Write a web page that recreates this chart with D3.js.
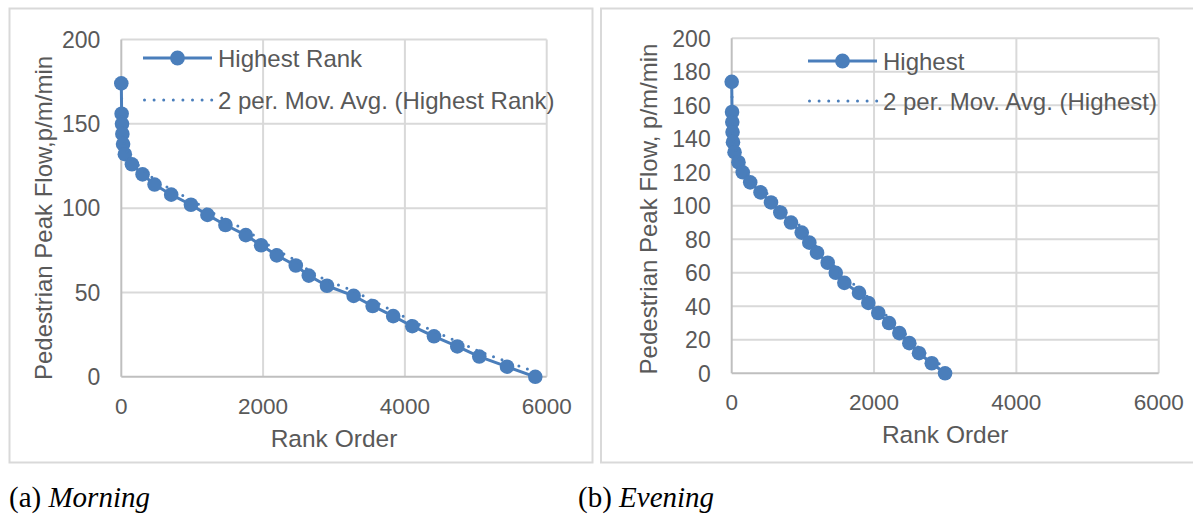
<!DOCTYPE html>
<html>
<head>
<meta charset="utf-8">
<script src="https://cdn.jsdelivr.net/npm/d3@7/dist/d3.min.js"></script>
<style>
  html, body { margin: 0; padding: 0; background: #fff; }
  svg { display: block; }
  .tick-label, .axis-title, .legend-text { font-family: "Liberation Sans", Arial, sans-serif; fill: #595959; }
  .caption { font-family: "Liberation Serif", "Times New Roman", serif; fill: #000; }
</style>
</head>
<body>
<svg id="chart" width="1193" height="515"></svg>
<script>
// Peak pedestrian flow (p/m/min) against rank order, morning and evening peaks
const flowLevels = [174, 156, 150, 144, 138, 132, 126, 120, 114, 108, 102, 96, 90, 84, 78, 72, 66, 60, 54, 48, 42, 36, 30, 24, 18, 12, 6, 0];
const morningRank = [0, 5, 10, 15, 25, 50, 150, 300, 469, 704, 982, 1215, 1469, 1756, 1972, 2193, 2461, 2644, 2901, 3277, 3545, 3835, 4104, 4410, 4739, 5049, 5440, 5839];
const eveningRank = [0, 5, 8, 12, 18, 40, 95, 155, 260, 405, 552, 683, 833, 984, 1091, 1199, 1349, 1462, 1583, 1789, 1920, 2060, 2211, 2356, 2496, 2632, 2811, 2998];

const xTicks = [0, 2000, 4000, 6000];
const morningYTicks = [0, 50, 100, 150, 200];
const eveningYTicks = [0, 20, 40, 60, 80, 100, 120, 140, 160, 180, 200];

const BLUE = "#4a7ebb";
const GRID = "#d9d9d9";
const AXIS = "#bfbfbf";

const svg = d3.select("#chart");

// Two-period moving average: mean of each point and its predecessor, placed at the later rank
function movingAverage(xs, ys) {
  const out = [];
  for (let i = 1; i < xs.length; i++) out.push([xs[i], (ys[i - 1] + ys[i]) / 2]);
  return out;
}

function drawPanel(cfg) {
  const g = svg.append("g");

  // chart frame
  g.append("rect")
    .attr("x", cfg.frame[0]).attr("y", cfg.frame[1])
    .attr("width", cfg.frame[2]).attr("height", cfg.frame[3])
    .attr("fill", "#fff").attr("stroke", GRID).attr("stroke-width", 2);

  const x = d3.scaleLinear().domain([0, 6000]).range([cfg.plot.left, cfg.plot.right]);
  const y = d3.scaleLinear().domain([0, 200]).range([cfg.plot.bottom, cfg.plot.top]);

  // gridlines
  g.append("g").selectAll("line").data(cfg.yTicks.filter(d => d > 0)).join("line")
    .attr("x1", x(0)).attr("x2", x(6000))
    .attr("y1", d => y(d)).attr("y2", d => y(d))
    .attr("stroke", GRID).attr("stroke-width", 2);
  g.append("g").selectAll("line").data(xTicks.filter(d => d > 0)).join("line")
    .attr("x1", d => x(d)).attr("x2", d => x(d))
    .attr("y1", y(0)).attr("y2", y(200))
    .attr("stroke", GRID).attr("stroke-width", 2);

  // axis lines
  g.append("line").attr("x1", x(0)).attr("x2", x(6000)).attr("y1", y(0)).attr("y2", y(0))
    .attr("stroke", AXIS).attr("stroke-width", 2);
  g.append("line").attr("x1", x(0)).attr("x2", x(0)).attr("y1", y(0)).attr("y2", y(200))
    .attr("stroke", AXIS).attr("stroke-width", 2);

  // tick labels
  g.append("g").selectAll("text").data(cfg.yTicks).join("text")
    .attr("class", "tick-label")
    .attr("x", x(0) - 21).attr("y", d => y(d))
    .attr("dy", "0.36em").attr("text-anchor", "end")
    .attr("font-size", 23)
    .text(d => d);
  g.append("g").selectAll("text").data(xTicks).join("text")
    .attr("class", "tick-label")
    .attr("x", d => x(d)).attr("y", y(0) + 29)
    .attr("dy", "0.36em").attr("text-anchor", "middle")
    .attr("font-size", 22.5)
    .text(d => d);

  // axis titles
  g.append("text").attr("class", "axis-title")
    .attr("x", (x(0) + x(6000)) / 2).attr("y", y(0) + 61)
    .attr("dy", "0.36em").attr("text-anchor", "middle")
    .attr("font-size", 24.5)
    .text("Rank Order");
  g.append("text").attr("class", "axis-title")
    .attr("transform", `translate(${cfg.yTitleX},${cfg.yTitleY}) rotate(-90)`)
    .attr("dy", "0.36em").attr("text-anchor", "middle")
    .attr("font-size", 24)
    .text(cfg.yTitle);

  const pts = cfg.ranks.map((r, i) => [r, flowLevels[i]]);
  const line = d3.line().x(d => x(d[0])).y(d => y(d[1]));

  // series line and markers
  g.append("path").datum(pts).attr("d", line)
    .attr("fill", "none").attr("stroke", BLUE).attr("stroke-width", 3)
    .attr("stroke-linejoin", "round");
  g.append("g").selectAll("circle").data(pts).join("circle")
    .attr("cx", d => x(d[0])).attr("cy", d => y(d[1])).attr("r", 7.3)
    .attr("fill", BLUE);

  // moving-average trendline
  g.append("path").datum(movingAverage(cfg.ranks, flowLevels)).attr("d", line)
    .attr("fill", "none").attr("stroke", BLUE).attr("stroke-width", 3)
    .attr("stroke-linecap", "round").attr("stroke-dasharray", "0 9");

  // legend
  const L = cfg.legend;
  g.append("line").attr("x1", L.x).attr("x2", L.x + 69).attr("y1", L.y1).attr("y2", L.y1)
    .attr("stroke", BLUE).attr("stroke-width", 3);
  g.append("circle").attr("cx", L.x + 34.5).attr("cy", L.y1).attr("r", 7.4).attr("fill", BLUE);
  g.append("text").attr("class", "legend-text")
    .attr("x", L.x + 75).attr("y", L.y1).attr("dy", "0.36em")
    .attr("font-size", 24).text(cfg.seriesName);
  g.append("line").attr("x1", L.x + 1.5).attr("x2", L.x + 69).attr("y1", L.y2).attr("y2", L.y2)
    .attr("stroke", BLUE).attr("stroke-width", 3)
    .attr("stroke-linecap", "round").attr("stroke-dasharray", "0 9.6");
  g.append("text").attr("class", "legend-text")
    .attr("x", L.x + 75).attr("y", L.y2).attr("dy", "0.36em")
    .attr("font-size", 24).text(`2 per. Mov. Avg. (${cfg.seriesName})`);

  // caption below the frame
  const cap = svg.append("text").attr("class", "caption")
    .attr("x", cfg.caption[0]).attr("y", cfg.caption[1]).attr("font-size", 29);
  cap.append("tspan").text(cfg.captionTag + " ");
  cap.append("tspan").attr("font-style", "italic").text(cfg.captionName);
}

drawPanel({
  frame: [9.5, 8.5, 583, 454],
  plot: { left: 121.3, right: 546.7, top: 39.5, bottom: 376.8 },
  yTicks: morningYTicks,
  ranks: morningRank,
  yTitle: "Pedestrian Peak Flow,p/m/min",
  yTitleX: 43, yTitleY: 218,
  seriesName: "Highest Rank",
  legend: { x: 143, y1: 58, y2: 100 },
  caption: [9, 507], captionTag: "(a)", captionName: "Morning"
});

drawPanel({
  frame: [601, 8.5, 600, 454],
  plot: { left: 731.7, right: 1158.7, top: 38.3, bottom: 373.3 },
  yTicks: eveningYTicks,
  ranks: eveningRank,
  yTitle: "Pedestrian Peak Flow, p/m/min",
  yTitleX: 648, yTitleY: 209,
  seriesName: "Highest",
  legend: { x: 808, y1: 61, y2: 101 },
  caption: [578, 507], captionTag: "(b)", captionName: "Evening"
});
</script>
</body>
</html>
